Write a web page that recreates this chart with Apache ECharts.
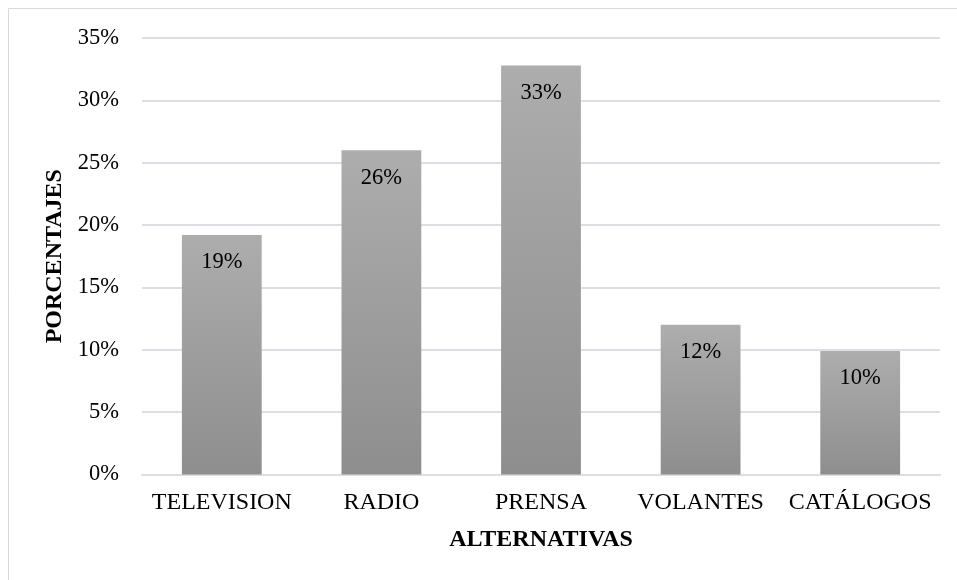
<!DOCTYPE html>
<html>
<head>
<meta charset="utf-8">
<script src="https://cdn.jsdelivr.net/npm/echarts@6/dist/echarts.min.js"></script>
<style>
    html, body { margin: 0; padding: 0; background: #fff; }
    #divChart { width: 957px; height: 580px; }
</style>
</head>
<body>
<div id="divChart"></div>
<script>
    // datos
    var categorias = ['TELEVISION', 'RADIO', 'PRENSA', 'VOLANTES', 'CATÁLOGOS'];
    var porcentajes = [19.2, 26.0, 32.8, 12.0, 9.9];
    var yTicks = [0, 5, 10, 15, 20, 25, 30, 35];

    var fuente = '"Liberation Serif", "Times New Roman", serif';
    var gris = '#dadfe6';

    var myChart = echarts.init(document.getElementById('divChart'));
    var option = {
        backgroundColor: '#fff',
        animation: false,
        graphic: [{
            type: 'rect',
            z: -1,
            shape: { x: 8.5, y: 8.5, width: 1200, height: 1200 },
            style: { fill: 'none', stroke: '#d9d9d9', lineWidth: 1 }
        }],
        grid: {
            left: 142,
            right: 17,
            top: 38,
            bottom: 105.5
        },
        xAxis: {
            type: 'category',
            data: categorias,
            name: 'ALTERNATIVAS',
            nameLocation: 'middle',
            nameGap: 53,
            nameTextStyle: { fontFamily: fuente, fontSize: 24, fontWeight: 'bold', color: '#000' },
            axisLine: { lineStyle: { color: gris, width: 2 } },
            axisTick: { show: false },
            axisLabel: { fontFamily: fuente, fontSize: 24, color: '#000', margin: 16, interval: 0 }
        },
        yAxis: {
            type: 'value',
            min: yTicks[0],
            max: yTicks[yTicks.length - 1],
            interval: 5,
            name: 'PORCENTAJES',
            nameLocation: 'middle',
            nameGap: 71,
            nameTextStyle: { fontFamily: fuente, fontSize: 24, fontWeight: 'bold', color: '#000' },
            axisLine: { show: false },
            axisTick: { show: false },
            splitLine: { lineStyle: { color: gris, width: 2 } },
            axisLabel: {
                fontFamily: fuente, fontSize: 22.5, color: '#000', margin: 23,
                formatter: function (v) { return v + '%'; }
            }
        },
        series: [{
            type: 'bar',
            data: porcentajes,
            barWidth: '50%',
            itemStyle: {
                color: new echarts.graphic.LinearGradient(0, 0, 0, 1, [
                    { offset: 0, color: '#adadad' },
                    { offset: 1, color: '#8e8e8e' }
                ])
            },
            label: {
                show: true,
                position: 'insideTop',
                distance: 16,
                fontFamily: fuente,
                fontSize: 22.5,
                color: '#000',
                formatter: function (p) { return Math.round(p.value) + '%'; }
            }
        }]
    };
    myChart.setOption(option);
</script>
</body>
</html>
